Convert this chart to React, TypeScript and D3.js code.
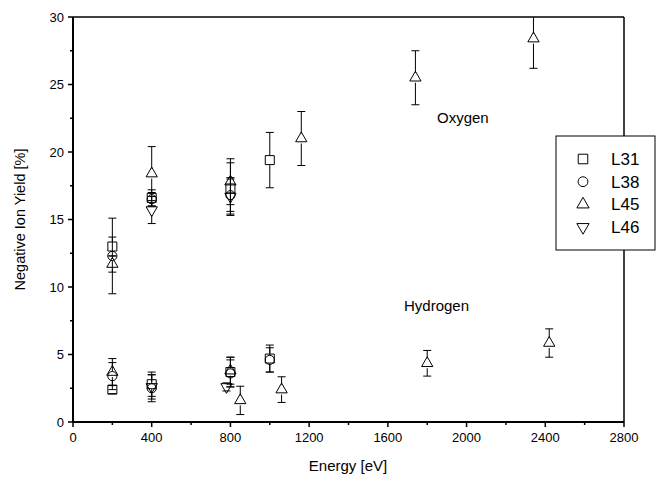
import * as d3 from "d3";

// energies in eV, values in %, errors in %
const seriesNames = ["L31", "L38", "L45", "L46"];

const l31Energy = [200, 400, 800, 1000, 200, 400, 800, 1000];
const l31Value = [13.0, 16.6, 17.3, 19.4, 2.4, 2.8, 3.7, 4.7];
const l31Error = [0.7, 0.6, 1.9, 2.05, 0.3, 0.9, 1.1, 1.0];

const l38Energy = [200, 400, 800, 200, 400, 800, 1000];
const l38Value = [12.3, 16.5, 16.8, 3.4, 2.5, 3.6, 4.6];
const l38Error = [2.8, 0.5, 1.2, 1.0, 1.0, 1.0, 0.9];

const l45Energy = [200, 400, 800, 1160, 1740, 2340, 200, 800, 850, 1060, 1800, 2420];
const l45Value = [11.7, 18.4, 17.8, 21.0, 25.5, 28.4, 3.7, 3.8, 1.6, 2.4, 4.35, 5.85];
const l45Error = [0.6, 2.0, 1.7, 2.0, 2.0, 2.2, 1.0, 1.0, 1.05, 0.95, 0.95, 1.05];

const l46Energy = [400, 800, 400, 780];
const l46Value = [15.7, 16.7, 2.6, 2.6];
const l46Error = [1.0, 1.4, 0.9, 0.3];

const xTicks = [0, 400, 800, 1200, 1600, 2000, 2400, 2800];
const yTicks = [0, 5, 10, 15, 20, 25, 30];

const W = 661;
const H = 478;
const m = { left: 73, right: 37, top: 17, bottom: 56 };

const x = d3.scaleLinear().domain([0, 2800]).range([m.left, W - m.right]);
const y = d3.scaleLinear().domain([0, 30]).range([H - m.bottom, m.top]);

const symbols = [
  { type: d3.symbolSquare, size: 81, rot: 0 },
  { type: d3.symbolCircle, size: 66, rot: 0 },
  { type: d3.symbolTriangle, size: 55, rot: 0 },
  { type: d3.symbolTriangle, size: 55, rot: 180 },
];

const zip = (e: number[], v: number[], er: number[]) =>
  e.map((d, i) => ({ e: d, v: v[i], err: er[i] }));

const series = [
  zip(l31Energy, l31Value, l31Error),
  zip(l38Energy, l38Value, l38Error),
  zip(l45Energy, l45Value, l45Error),
  zip(l46Energy, l46Value, l46Error),
];

const font = "'Liberation Sans', Arial, sans-serif";

export default function App() {
  const top = y.range()[1];
  const bottom = y.range()[0];
  const gap = 5;
  const minorX = d3.range(200, 2800, 400);
  const minorY = d3.range(2.5, 30, 5);

  return (
    <svg width={W} height={H} style={{ position: "absolute", left: 0, top: 0, background: "#fff" }} fontFamily={font}>
      <defs>
        <clipPath id="plot">
          <rect x={m.left} y={top} width={x(2800) - m.left} height={bottom - top} />
        </clipPath>
      </defs>

      {/* frame */}
      <line x1={m.left} x2={x(2800)} y1={top} y2={top} stroke="#000" strokeWidth={1.5} />
      <line x1={x(2800)} x2={x(2800)} y1={top} y2={bottom} stroke="#000" strokeWidth={1.5} />
      <line x1={m.left} x2={x(2800)} y1={bottom} y2={bottom} stroke="#000" strokeWidth={2} />
      <line x1={m.left} x2={m.left} y1={top} y2={bottom} stroke="#000" strokeWidth={2} />

      {/* x ticks */}
      {xTicks.map((t) => (
        <g key={"xt" + t}>
          <line x1={x(t)} x2={x(t)} y1={bottom} y2={bottom + 5} stroke="#000" strokeWidth={1.5} />
          <text x={x(t)} y={bottom + 20} fontSize={13} textAnchor="middle">{t}</text>
        </g>
      ))}
      {minorX.map((t) => (
        <line key={"xm" + t} x1={x(t)} x2={x(t)} y1={bottom} y2={bottom + 3} stroke="#000" strokeWidth={1.5} />
      ))}

      {/* y ticks */}
      {yTicks.map((t) => (
        <g key={"yt" + t}>
          <line x1={m.left - 5} x2={m.left} y1={y(t)} y2={y(t)} stroke="#000" strokeWidth={1.5} />
          <text x={m.left - 9} y={y(t) + 4.5} fontSize={13} textAnchor="end">{t}</text>
        </g>
      ))}
      {minorY.map((t) => (
        <line key={"ym" + t} x1={m.left - 3} x2={m.left} y1={y(t)} y2={y(t)} stroke="#000" strokeWidth={1.5} />
      ))}

      <text x={348} y={471} fontSize={15} textAnchor="middle">Energy [eV]</text>
      <text transform={`translate(25,${(top + bottom) / 2}) rotate(-90)`} fontSize={14.5} textAnchor="middle">
        Negative Ion Yield [%]
      </text>

      <text x={437} y={123} fontSize={15}>Oxygen</text>
      <text x={404} y={311} fontSize={15}>Hydrogen</text>

      {/* data */}
      <g clipPath="url(#plot)">
        {series.map((pts, si) =>
          pts.map((p, i) => {
            const cx = x(p.e);
            const cy = y(p.v);
            const yt = y(p.v + p.err);
            const yb = y(p.v - p.err);
            const sym = symbols[si];
            const path = d3.symbol(sym.type, sym.size)() as string;
            return (
              <g key={si + "-" + i}>
                {yt < cy - gap && <line x1={cx} x2={cx} y1={cy - gap} y2={yt} stroke="#000" strokeWidth={1} />}
                {yb > cy + gap && <line x1={cx} x2={cx} y1={cy + gap} y2={yb} stroke="#000" strokeWidth={1} />}
                <line x1={cx - 4} x2={cx + 4} y1={yt} y2={yt} stroke="#000" strokeWidth={1} />
                <line x1={cx - 4} x2={cx + 4} y1={yb} y2={yb} stroke="#000" strokeWidth={1} />
                <path d={path} transform={`translate(${cx},${cy}) rotate(${sym.rot})`} fill="none" stroke="#000" strokeWidth={1} />
              </g>
            );
          })
        )}
      </g>

      {/* legend */}
      <rect x={556} y={136} width={99} height={114} fill="#fff" stroke="#000" strokeWidth={1} />
      {seriesNames.map((n, i) => {
        const sym = symbols[i];
        const ly = 159 + i * 22.7;
        return (
          <g key={n}>
            <path d={d3.symbol(sym.type, sym.size + 10)() as string} transform={`translate(583,${ly}) rotate(${sym.rot})`} fill="none" stroke="#000" strokeWidth={1} />
            <text x={611} y={ly + 6} fontSize={17}>{n}</text>
          </g>
        );
      })}
    </svg>
  );
}
